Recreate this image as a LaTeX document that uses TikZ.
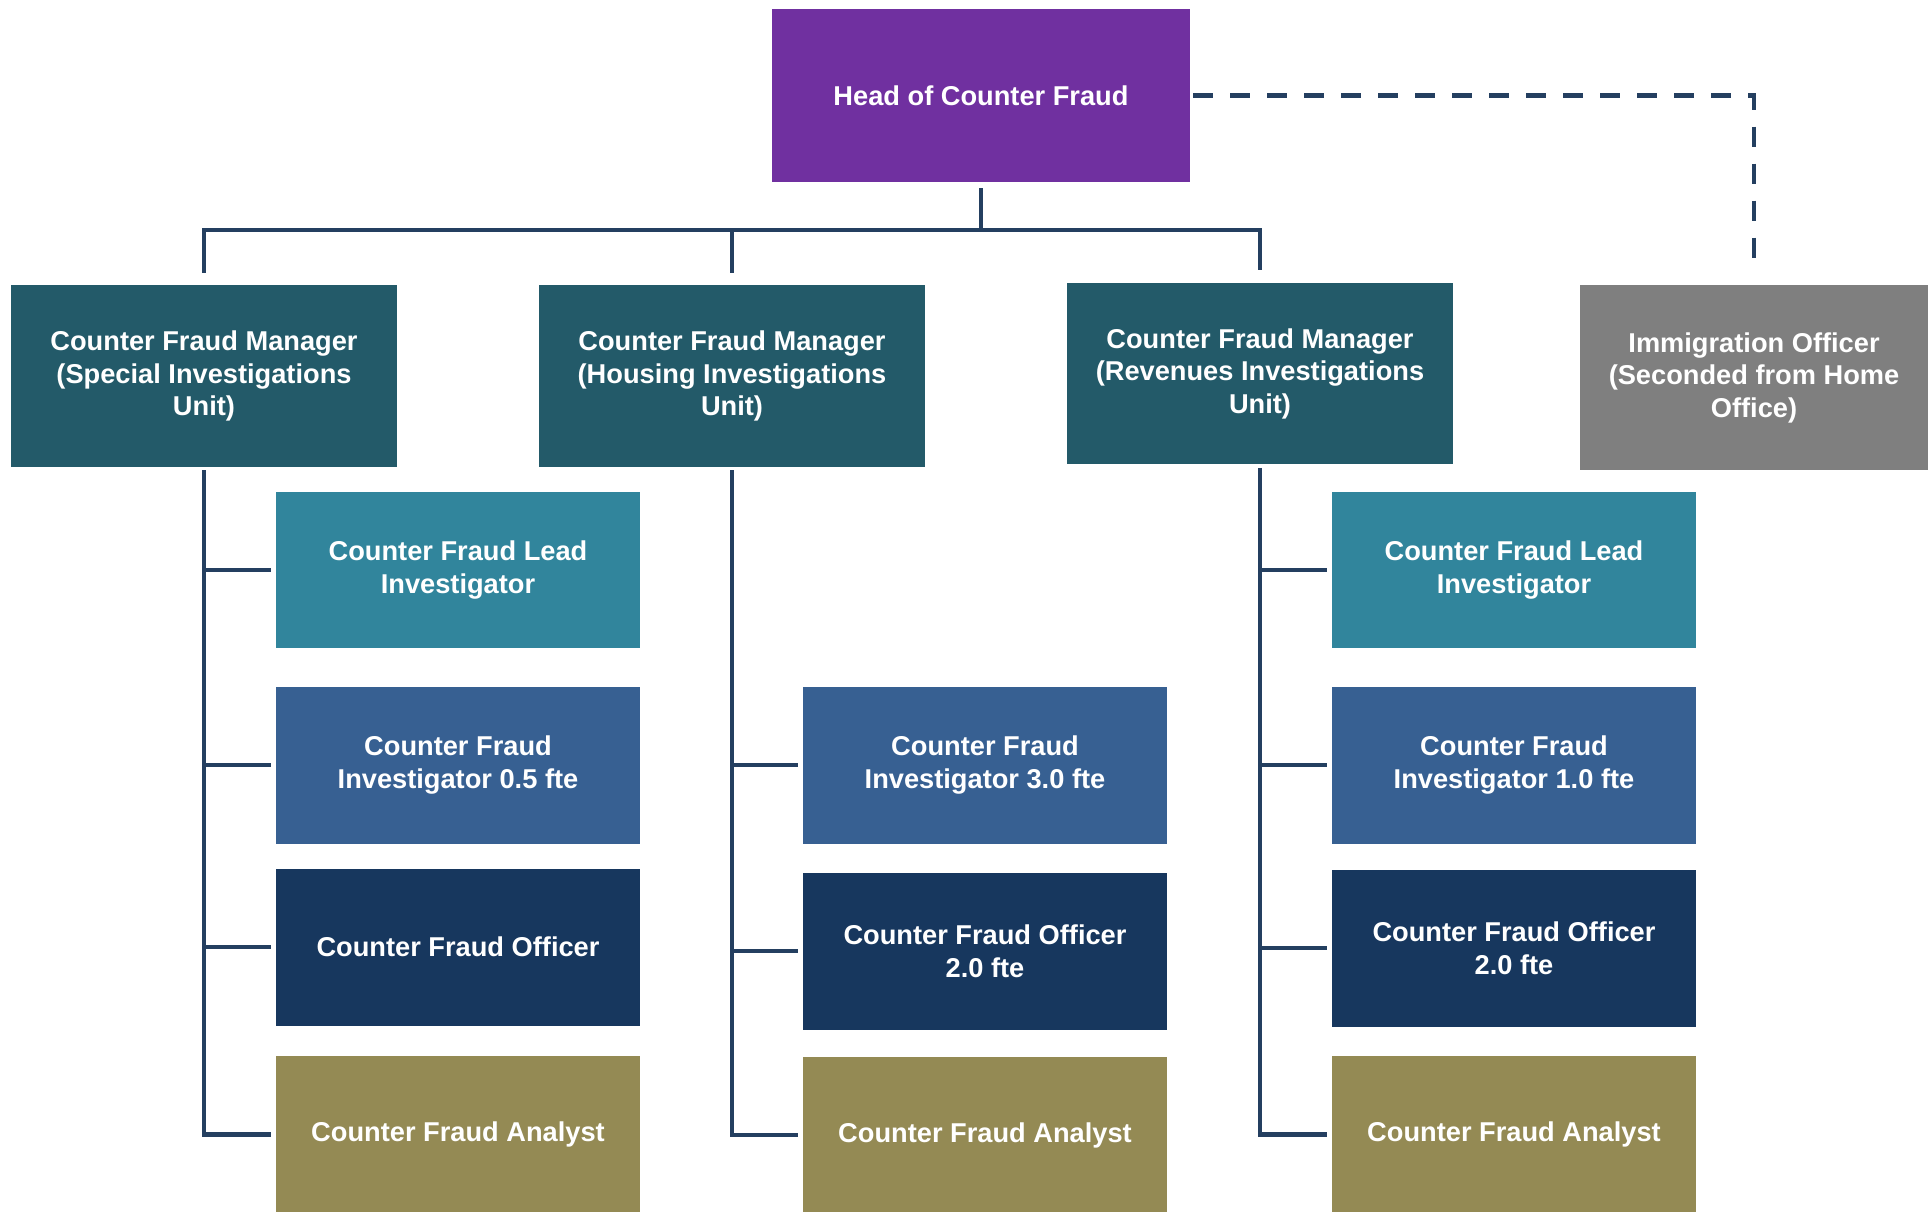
\documentclass[tikz,border=0pt]{standalone}
\usepackage{fontspec}
\setmainfont{Liberation Sans}
\usetikzlibrary{calc}

\definecolor{headpurple}{HTML}{7030A0}
\definecolor{mgrteal}{HTML}{235A69}
\definecolor{leadteal}{HTML}{31859C}
\definecolor{invblue}{HTML}{376092}
\definecolor{offnavy}{HTML}{17375E}
\definecolor{anolive}{HTML}{948A54}
\definecolor{immgrey}{HTML}{7F7F7F}
\definecolor{linknavy}{HTML}{243F60}

\tikzset{
  box/.style={rectangle, text=white, inner sep=0pt, align=center,
    font=\bfseries\fontsize{15.5}{18.5}\selectfont},
  headbox/.style={box, fill=headpurple, minimum width=8.36cm, minimum height=3.46cm},
  mgrbox/.style={box, fill=mgrteal, minimum width=7.74cm, minimum height=3.64cm},
  immbox/.style={box, fill=immgrey, minimum width=6.96cm, minimum height=3.7cm},
  staffbox/.style={box, minimum width=7.28cm, minimum height=3.14cm},
  leadbox/.style={staffbox, fill=leadteal},
  invbox/.style={staffbox, fill=invblue},
  offbox/.style={staffbox, fill=offnavy},
  anbox/.style={staffbox, fill=anolive},
  link/.style={draw=linknavy, line width=2.8pt},
  dashlink/.style={link, dash pattern=on 0.4cm off 0.34cm},
}

\begin{document}
\begin{tikzpicture}[x=0.02cm, y=-0.02cm]
\useasboundingbox (0,0) rectangle (1930,1211);

% top level
\node[headbox] (head) at (981,95.5) {Head of Counter Fraud};

% managers
\node[mgrbox] (mgrspec) at (204,376) {Counter Fraud Manager\\(Special Investigations\\Unit)};
\node[mgrbox] (mgrhous) at (732,376) {Counter Fraud Manager\\(Housing Investigations\\Unit)};
\node[mgrbox] (mgrrev) at (1260,373.5) {Counter Fraud Manager\\(Revenues Investigations\\Unit)};
\node[immbox] (imm) at (1754,377.5) {Immigration Officer\\(Seconded from Home\\Office)};

% special investigations team
\node[leadbox] (leadspec) at (458,570) {Counter Fraud Lead\\Investigator};
\node[invbox] (invspec) at (458,765) {Counter Fraud\\Investigator 0.5 fte};
\node[offbox] (offspec) at (458,947) {Counter Fraud Officer};
\node[anbox] (anspec) at (458,1134.5) {Counter Fraud Analyst};

% housing investigations team
\node[invbox] (invhous) at (985,765) {Counter Fraud\\Investigator 3.0 fte};
\node[offbox] (offhous) at (985,951) {Counter Fraud Officer\\2.0 fte};
\node[anbox] (anhous) at (985,1135) {Counter Fraud Analyst};

% revenues investigations team
\node[leadbox] (leadrev) at (1514,570) {Counter Fraud Lead\\Investigator};
\node[invbox] (invrev) at (1514,765) {Counter Fraud\\Investigator 1.0 fte};
\node[offbox] (offrev) at (1514,948) {Counter Fraud Officer\\2.0 fte};
\node[anbox] (anrev) at (1514,1134.5) {Counter Fraud Analyst};

% head to managers
\coordinate (bus) at (981,230);
\draw[link] ([yshift=-0.12cm]head.south) -- (bus);
\draw[link] (bus) -| ([yshift=0.24cm]mgrspec.north);
\draw[link] (bus) -| ([yshift=0.24cm]mgrhous.north);
\draw[link] (bus) -| ([yshift=0.24cm]mgrrev.north);
\draw[dashlink] ([xshift=0.06cm]head.east) -| ([yshift=0.36cm]imm.north);

% managers to teams
\draw[link] ([yshift=-0.06cm]mgrspec.south) |- ([xshift=-0.1cm]anspec.west);
\draw[link] (mgrspec.south |- leadspec.west) -- ([xshift=-0.1cm]leadspec.west);
\draw[link] (mgrspec.south |- invspec.west) -- ([xshift=-0.1cm]invspec.west);
\draw[link] (mgrspec.south |- offspec.west) -- ([xshift=-0.1cm]offspec.west);

\draw[link] ([yshift=-0.06cm]mgrhous.south) |- ([xshift=-0.1cm]anhous.west);
\draw[link] (mgrhous.south |- invhous.west) -- ([xshift=-0.1cm]invhous.west);
\draw[link] (mgrhous.south |- offhous.west) -- ([xshift=-0.1cm]offhous.west);

\draw[link] ([yshift=-0.06cm]mgrrev.south) |- ([xshift=-0.1cm]anrev.west);
\draw[link] (mgrrev.south |- leadrev.west) -- ([xshift=-0.1cm]leadrev.west);
\draw[link] (mgrrev.south |- invrev.west) -- ([xshift=-0.1cm]invrev.west);
\draw[link] (mgrrev.south |- offrev.west) -- ([xshift=-0.1cm]offrev.west);
\end{tikzpicture}
\end{document}
